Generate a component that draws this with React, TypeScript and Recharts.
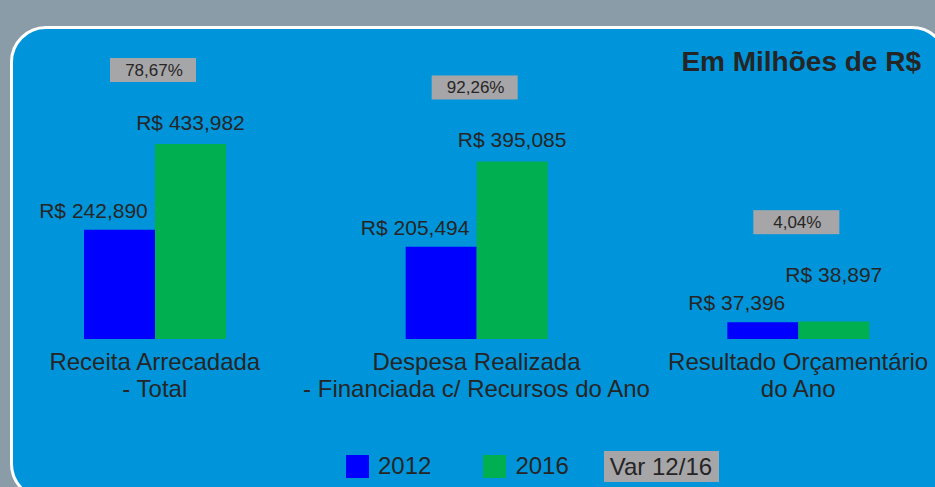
import React from 'react';
import { BarChart, Bar, XAxis, YAxis, Legend, LabelList } from 'recharts';

const categorias = ['Receita Arrecadada\n- Total', 'Despesa Realizada\n- Financiada c/ Recursos do Ano', 'Resultado Orçamentário\ndo Ano'];
const valores2012 = [242.89, 205.494, 37.396];
const valores2016 = [433.982, 395.085, 38.897];
const variacao = [78.67, 92.26, 4.04];

const AZUL = '#0000ff';
const VERDE = '#00b050';
const CINZA = '#a6a6a8';
const TEXTO = '#262526';
const FONTE = '"Liberation Sans", Arial, sans-serif';

const data = categorias.map((nome, i) => ({
    nome,
    v2012: valores2012[i],
    v2016: valores2016[i],
    variacao: variacao[i],
}));

const fmt = (v: number) => v.toFixed(3).replace('.', ',');
const fmtPct = (v: number) => v.toFixed(2).replace('.', ',') + '%';

const CategoryTick = (props: any) => {
    const { x, y, payload } = props;
    const lines = String(payload.value).split('\n');
    return (
        <text x={x} y={y} textAnchor="middle" fill={TEXTO} fontSize={24} fontFamily={FONTE}>
            {lines.map((l, i) => (
                <tspan key={i} x={x} dy={i === 0 ? 23 : 27}>{l}</tspan>
            ))}
        </text>
    );
};

// 2012: rotulo deslocado p/ esquerda
const rotulo2012 = (props: any) => {
    const { x, y, width, value } = props;
    return (
        <text x={x + width / 2 - 26} y={y - 12} textAnchor="middle" fill={TEXTO} fontSize={21} fontFamily={FONTE}>
            {'R$ ' + fmt(value)}
        </text>
    );
};

// altura do rotulo 2016: sobe se ficar na mesma altura do de 2012
const yRotulo2016 = (y: number, height: number, index: number) => {
    const base = y + height;
    const topo2012 = base - height * (valores2012[index] / valores2016[index]);
    return Math.min(y - 14, topo2012 - 12 - 28);
};

const rotulo2016 = (props: any) => {
    const { x, y, width, height, value, index } = props;
    return (
        <text x={x + width / 2} y={yRotulo2016(y, height, index)} textAnchor="middle" fill={TEXTO} fontSize={21} fontFamily={FONTE}>
            {'R$ ' + fmt(value)}
        </text>
    );
};

const caixaVariacao = (props: any) => {
    const { x, y, height, value, index } = props;
    const cx = x - 2;
    const cy = yRotulo2016(y, height, index) - 60;
    return (
        <g>
            <rect x={cx - 43} y={cy - 12} width={86} height={24} fill={CINZA} />
            <text x={cx + 1} y={cy + 6} textAnchor="middle" fill={TEXTO} fontSize={17} fontFamily={FONTE}>
                {fmtPct(value)}
            </text>
        </g>
    );
};

const legenda = () => (
    <div style={{ display: 'flex', alignItems: 'center', paddingLeft: 352, fontSize: 24, color: TEXTO, fontFamily: FONTE, height: 32 }}>
        <span style={{ width: 23, height: 23, background: AZUL, display: 'inline-block' }} />
        <span style={{ marginLeft: 9 }}>2012</span>
        <span style={{ width: 23, height: 23, background: VERDE, display: 'inline-block', marginLeft: 52 }} />
        <span style={{ marginLeft: 9 }}>2016</span>
        <span style={{ marginLeft: 35, background: CINZA, height: 31, lineHeight: '31px', padding: '0 7px 0 6px' }}>Var 12/16</span>
    </div>
);

export default function App() {
    return (
        <div style={{ position: 'absolute', left: 0, top: 0, width: 935, height: 487, overflow: 'hidden', background: '#8a9ca7', fontFamily: FONTE }}>
            <div style={{ position: 'absolute', left: 10, top: 26, width: 938, height: 474, boxSizing: 'border-box', border: '3px solid #ffffff', borderRadius: 36, background: '#0095da' }} />
            <div style={{ position: 'absolute', right: 14, top: 48, fontSize: 28, lineHeight: '28px', fontWeight: 'bold', color: TEXTO }}>
                Em Milhões de R$
            </div>
            <div style={{ position: 'absolute', left: -6, top: 0 }}>
                <BarChart width={965} height={487} data={data} barGap={0} margin={{ top: 144, right: 0, bottom: 88, left: 0 }}>
                    <XAxis dataKey="nome" axisLine={false} tickLine={false} height={60} interval={0} tick={<CategoryTick />} />
                    <YAxis hide domain={[0, 'dataMax']} />
                    <Legend verticalAlign="middle" align="center" layout="horizontal" wrapperStyle={{ top: 450, left: 0, width: 965 }} content={legenda} />
                    <Bar dataKey="v2012" name="2012" fill={AZUL} barSize={71} isAnimationActive={false}>
                        <LabelList dataKey="v2012" content={rotulo2012} />
                    </Bar>
                    <Bar dataKey="v2016" name="2016" fill={VERDE} barSize={71} isAnimationActive={false}>
                        <LabelList dataKey="v2016" content={rotulo2016} />
                        <LabelList dataKey="variacao" content={caixaVariacao} />
                    </Bar>
                </BarChart>
            </div>
        </div>
    );
}
